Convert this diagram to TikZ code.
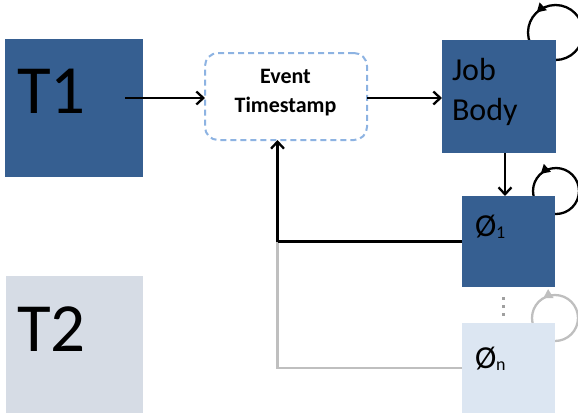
\documentclass[tikz,border=0pt]{standalone}
\usepackage{fontspec}
\setmainfont{Carlito}
\usetikzlibrary{arrows.meta,decorations.markings}

\definecolor{taskdark}{HTML}{365F91}
\definecolor{tasklight}{HTML}{D6DCE5}
\definecolor{phaselight}{HTML}{DCE6F2}
\definecolor{dashblue}{HTML}{8DB3E2}
\definecolor{fadegray}{HTML}{BFBFBF}
\definecolor{dotgray}{HTML}{A0A0A0}

\tikzset{
  box/.style={draw=none, inner sep=0pt, outer sep=0pt, anchor=north west},
  darkbox/.style={box, fill=taskdark},
  lightbox/.style={box, fill=tasklight},
  phasebox/.style={box, fill=phaselight},
  eventbox/.style={box, draw=dashblue, line width=2pt, dash pattern=on 6pt off 4pt,
                   rounded corners=13pt, fill=white},
  lbl/.style={inner sep=0pt, outer sep=0pt, anchor=base west},
  conn/.style={draw=black, line width=2.3pt, -{Straight Barb[length=7pt,width=13pt,line width=2.3pt]}},
  plain/.style={draw=black, line width=2.3pt},
  fadeline/.style={draw=fadegray, line width=2.3pt},
  selfloop/.style={line width=2.3pt, postaction={decorate},
    decoration={markings, mark=at position #1 with {\arrow{Triangle[length=9pt,width=10pt]}}}},
}

\begin{document}
\begin{tikzpicture}[x=1pt,y=-1pt]
  \useasboundingbox (0,0) rectangle (578,413);
  \clip (0,0) rectangle (578,413);

  % self loops (drawn first, boxes cover their lower parts)
  \draw[selfloop=0.62, black] (555.5,32.5) ++(90:27.5) arc[start angle=90, end angle=-270, radius=27.5];
  \draw[selfloop=0.616, black] (556,191) ++(90:23) arc[start angle=90, end angle=-270, radius=23];
  \draw[selfloop=0.586, fadegray, fill=none] (555,318) ++(90:23) arc[start angle=90, end angle=-270, radius=23];

  % boxes
  \node[darkbox, minimum width=138pt, minimum height=138pt] (t1) at (5,39) {};
  \node[lightbox, minimum width=137pt, minimum height=137pt] (t2) at (6,276) {};
  \node[eventbox, minimum width=162pt, minimum height=87pt] (ev) at (205,53) {};
  \node[darkbox, minimum width=114pt, minimum height=113pt] (job) at (442,40) {};
  \node[darkbox, minimum width=93pt, minimum height=91pt] (p1) at (462,196) {};
  \node[phasebox, minimum width=93pt, minimum height=90pt] (pn) at (462,323) {};

  % labels
  \node[lbl, font=\fontsize{69}{69}\selectfont] (t1l) at (17,113) {T1};
  \node[lbl, font=\fontsize{69}{69}\selectfont] (t2l) at (17,351) {T2};
  \node[inner sep=0pt, anchor=base, font=\fontsize{22}{22}\selectfont\bfseries] (evl1) at (285.5,83) {Event};
  \node[inner sep=0pt, anchor=base, font=\fontsize{22}{22}\selectfont\bfseries] (evl2) at (285.5,112) {Timestamp};
  \node[lbl, font=\fontsize{32}{32}\selectfont] (jobl1) at (452,80) {Job};
  \node[lbl, font=\fontsize{32}{32}\selectfont] (jobl2) at (452,120) {Body};
  \node[lbl, font=\fontsize{32}{32}\selectfont] (p1l) at (475,236)
    {Ø\raisebox{-2pt}{\fontsize{18}{18}\selectfont 1}};
  \node[lbl, font=\fontsize{32}{32}\selectfont] (pnl) at (475,368)
    {Ø\raisebox{-2pt}{\fontsize{18}{18}\selectfont n}};

  % vertical ellipsis between the phases
  \fill[dotgray] (501.5,296.5) rectangle ++(3,3);
  \fill[dotgray] (501.5,304.5) rectangle ++(3,3);
  \fill[dotgray] (501.5,312.5) rectangle ++(3,3);

  % connectors
  \coordinate (t1out) at (125,98);
  \coordinate (fbk) at ([xshift=-8.5pt]ev.south |- p1.west);
  \draw[fadeline] (pn.west) -| (fbk);
  \draw[conn] (t1out) -- (t1out -| ev.west);
  \draw[conn] (ev.east |- t1out) -- (t1out -| job.west);
  \draw[conn] ([xshift=6pt]job.south) -- ([xshift=6pt]job.south |- p1.north);
  \draw[plain] (p1.west) -- (fbk);
  \draw[conn] (fbk) -- ([xshift=-8.5pt]ev.south);
\end{tikzpicture}
\end{document}
